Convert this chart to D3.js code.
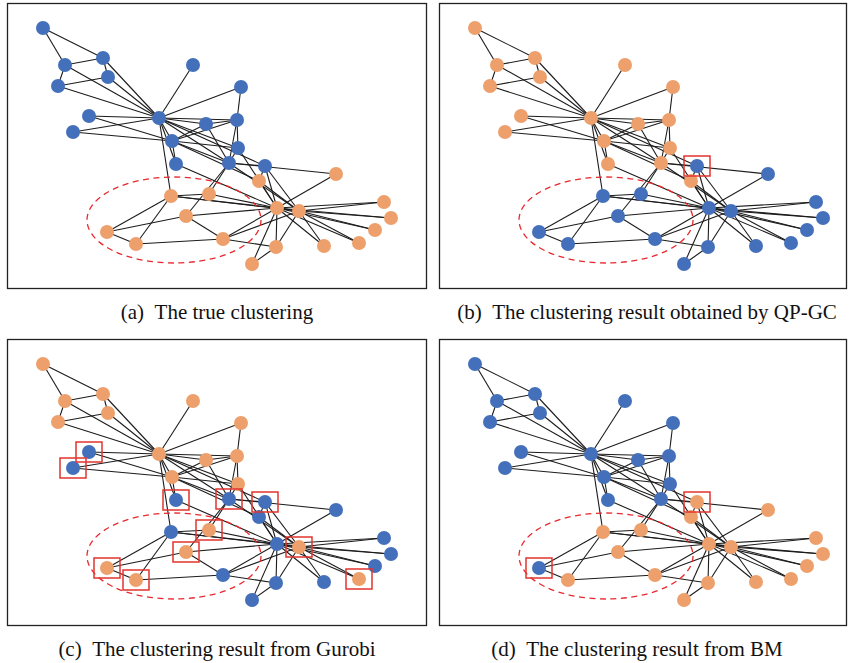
<!DOCTYPE html>
<html>
<head>
<meta charset="utf-8">
<script src="https://cdn.jsdelivr.net/npm/d3@7"></script>
<style>
  html, body { margin: 0; padding: 0; background: #fff; }
  svg { display: block; }
</style>
</head>
<body>
<svg id="fig" width="849" height="663"></svg>
<script>
// Zachary karate club: 34 members, 78 ties.
const edges = [
  [0,1],[0,2],[0,3],[0,4],[0,5],[0,6],[0,7],[0,8],[0,10],[0,11],[0,12],[0,13],[0,17],[0,19],[0,21],[0,31],
  [1,2],[1,3],[1,7],[1,13],[1,17],[1,19],[1,21],[1,30],
  [2,3],[2,7],[2,8],[2,9],[2,13],[2,27],[2,28],[2,32],
  [3,7],[3,12],[3,13],
  [4,6],[4,10],[5,6],[5,10],[5,16],[6,16],
  [8,30],[8,32],[8,33],[9,33],[13,33],
  [14,32],[14,33],[15,32],[15,33],[18,32],[18,33],[19,33],[20,32],[20,33],[22,32],[22,33],
  [23,25],[23,27],[23,29],[23,32],[23,33],
  [24,25],[24,27],[24,31],[25,31],[26,29],[26,33],[27,33],[28,31],[28,33],
  [29,32],[29,33],[30,32],[30,33],[31,32],[31,33],[32,33]
];

// Node layout coordinates (shared by all four drawings)
const layoutX = [152,165,222,230,101,58,96,199,258,329,51,186,234,231,377,384,36,82,368,169,352,66,317,216,100,129,245,179,202,269,252,164,292,270];
const layoutY = [115,138,160,117,74,62,55,121,163,171,83,62,84,145,199,215,25,113,227,161,240,129,243,236,229,241,261,213,191,244,178,193,208,205];

// Cluster index assigned to every member, one list per method
const clusterTrue   = [0,0,0,0,0,0,0,0,0,1,0,0,0,0,1,1,0,0,1,0,1,0,1,1,1,1,1,1,1,1,1,1,1,1];
const clusterQPGC   = [0,0,0,0,0,0,0,0,1,1,0,0,0,0,1,1,0,0,1,0,1,0,1,1,1,1,1,1,1,1,0,1,1,1];
const clusterGurobi = [0,0,1,0,0,0,0,0,1,1,0,0,0,0,1,1,0,1,1,1,0,1,1,1,0,0,1,0,0,1,1,1,0,1];
const clusterBM     = [0,0,0,0,0,0,0,0,1,1,0,0,0,0,1,1,0,0,1,0,1,0,1,1,0,1,1,1,1,1,1,1,1,1];

// Members marked with a box in each result
const wrongQPGC   = [8];
const wrongGurobi = [2,8,17,19,20,21,24,25,27,28,32];
const wrongBM     = [8,24];

const captions = [
  "(a)\u2002The true clustering",
  "(b)\u2002The clustering result obtained by QP-GC",
  "(c)\u2002The clustering result from Gurobi",
  "(d)\u2002The clustering result from BM"
];

const BLUE = "#4470bb", ORANGE = "#eea06c";

const panels = [
  {x0: 7,   y0: 3,   w: 420, h: 286, cluster: clusterTrue,   wrong: [],          palette: [BLUE, ORANGE], cap: captions[0], capX: 217, capY: 319},
  {x0: 439, y0: 3,   w: 408, h: 286, cluster: clusterQPGC,   wrong: wrongQPGC,   palette: [ORANGE, BLUE], cap: captions[1], capX: 647, capY: 319},
  {x0: 7,   y0: 339, w: 420, h: 287, cluster: clusterGurobi, wrong: wrongGurobi, palette: [ORANGE, BLUE], cap: captions[2], capX: 217, capY: 656},
  {x0: 439, y0: 339, w: 408, h: 287, cluster: clusterBM,     wrong: wrongBM,     palette: [BLUE, ORANGE], cap: captions[3], capX: 637, capY: 656}
];

const svg = d3.select("#fig");

panels.forEach((p, pi) => {
  const x = d3.scaleLinear().domain([0, 420]).range([p.x0, p.x0 + 420]);
  const y = d3.scaleLinear().domain([0, 286]).range([p.y0, p.y0 + 286]);

  const clipId = "clip" + pi;
  svg.append("clipPath").attr("id", clipId)
    .append("rect").attr("x", p.x0).attr("y", p.y0).attr("width", p.w).attr("height", p.h);

  const g = svg.append("g").attr("clip-path", `url(#${clipId})`);

  // ties
  g.append("g").selectAll("line").data(edges).join("line")
    .attr("x1", d => x(layoutX[d[0]])).attr("y1", d => y(layoutY[d[0]]))
    .attr("x2", d => x(layoutX[d[1]])).attr("y2", d => y(layoutY[d[1]]))
    .attr("stroke", "#1c1c1c").attr("stroke-width", 1.1);

  // dashed ellipse around the lower-left group
  g.append("ellipse")
    .attr("cx", x(167)).attr("cy", y(217))
    .attr("rx", x(87) - x(0)).attr("ry", y(43) - y(0))
    .attr("fill", "none").attr("stroke", "#e8282c")
    .attr("stroke-width", 1.3).attr("stroke-dasharray", "6,4.5");

  // members
  g.append("g").selectAll("circle").data(d3.range(layoutX.length)).join("circle")
    .attr("cx", i => x(layoutX[i])).attr("cy", i => y(layoutY[i]))
    .attr("r", 7)
    .attr("fill", i => p.palette[p.cluster[i]]);

  // boxes on marked members
  g.append("g").selectAll("rect").data(p.wrong).join("rect")
    .attr("x", i => x(layoutX[i]) - 13).attr("y", i => y(layoutY[i]) - 10)
    .attr("width", 26).attr("height", 20)
    .attr("fill", "none").attr("stroke", "#e2332e").attr("stroke-width", 1.5);

  // frame
  svg.append("rect")
    .attr("x", p.x0 + 0.5).attr("y", p.y0 + 0.5)
    .attr("width", p.w - 1).attr("height", p.h - 1)
    .attr("fill", "none").attr("stroke", "#222").attr("stroke-width", 1.3);

  svg.append("text")
    .attr("x", p.capX).attr("y", p.capY)
    .attr("text-anchor", "middle")
    .attr("font-family", "'Liberation Serif', 'Times New Roman', serif")
    .attr("font-size", 21)
    .attr("fill", "#111")
    .text(p.cap);
});
</script>
</body>
</html>
